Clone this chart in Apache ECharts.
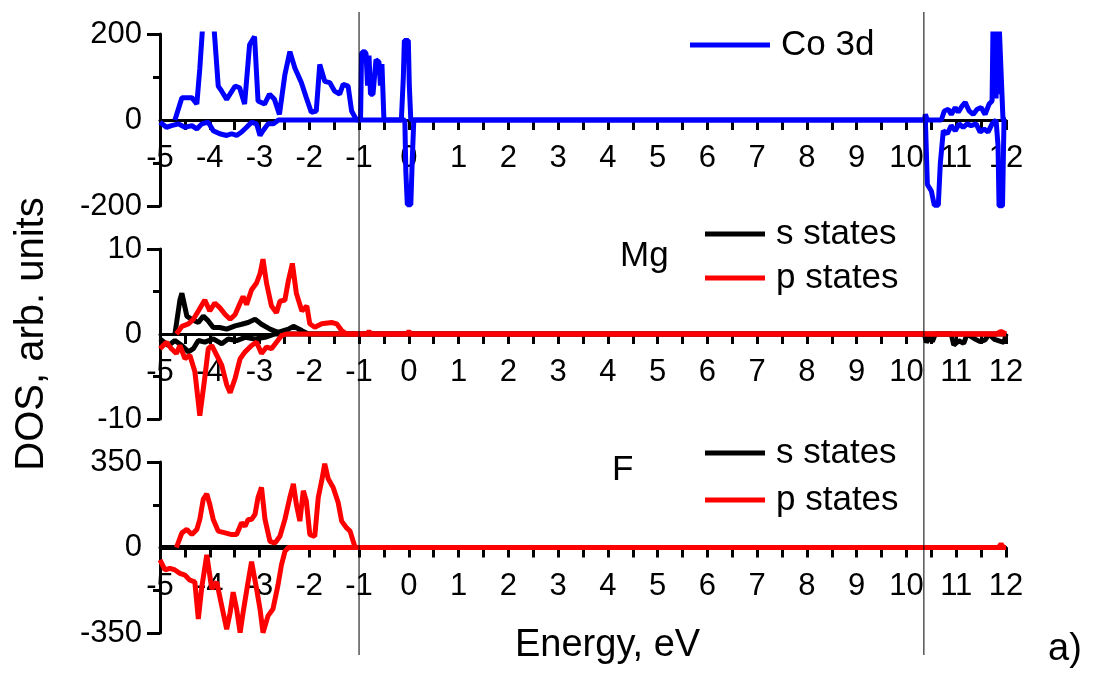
<!DOCTYPE html>
<html>
<head>
<meta charset="utf-8">
<script src="https://cdn.jsdelivr.net/npm/echarts@6/dist/echarts.min.js"></script>
<style>
  html, body { margin: 0; padding: 0; background: #fff; }
  #main { width: 1107px; height: 684px; }
</style>
</head>
<body>
<div id="main"></div>
<script>
// energy axis
const energyMin = -5;
const energyMax = 12;
const dividers = [-1, 10.35];

// Co 3d, spin up / spin down  [energy, DOS]
const coUp = [
  [-4.7, 0], [-4.66, 0], [-4.56, 52], [-4.36, 52], [-4.26, 37], [-4.2, 120], [-4.13, 240], [-3.93, 240],
  [-3.83, 79], [-3.76, 67], [-3.66, 48], [-3.49, 79], [-3.4, 75], [-3.3, 37], [-3.2, 175], [-3.1, 194],
  [-3.03, 44], [-2.9, 37], [-2.8, 60], [-2.7, 48], [-2.6, 13], [-2.49, 106], [-2.39, 159], [-2.29, 121],
  [-2.16, 87], [-2.06, 52], [-1.96, 18], [-1.86, 21], [-1.79, 129], [-1.69, 90], [-1.59, 87], [-1.49, 67],
  [-1.39, 60], [-1.32, 83], [-1.22, 79], [-1.15, 21], [-1.05, 0],
  [-0.97, 0], [-0.95, 155], [-0.9, 160], [-0.86, 155], [-0.83, 80], [-0.8, 150], [-0.77, 60], [-0.72, 60],
  [-0.66, 140], [-0.6, 135], [-0.57, 80], [-0.54, 130], [-0.5, 0],
  [-0.15, 0], [-0.11, 100], [-0.09, 185], [-0.01, 185], [0.01, 80], [0.04, 0],
  [10.36, 0], [10.38, 13], [10.42, 0], [10.7, 0], [10.76, 21], [10.84, 25], [10.9, 13], [10.98, 29],
  [11.04, 18], [11.12, 33], [11.18, 41], [11.26, 21], [11.34, 13], [11.42, 25], [11.5, 29], [11.58, 13],
  [11.66, 37], [11.72, 44], [11.74, 230], [11.76, 50], [11.78, 230], [11.8, 50], [11.82, 230], [11.84, 60],
  [11.86, 230], [11.9, 230], [11.94, 0], [12, 0]
];
const coDn = [
  [-5, -5], [-4.97, -5], [-4.87, -17], [-4.77, -13], [-4.63, -9], [-4.5, -17], [-4.36, -13], [-4.26, -21],
  [-4.16, -9], [-4.03, -5], [-3.93, -25], [-3.8, -32], [-3.66, -36], [-3.56, -32], [-3.46, -36], [-3.36, -28],
  [-3.26, -17], [-3.16, -5], [-3.06, -9], [-2.99, -36], [-2.93, -25], [-2.83, -9], [-2.72, -9], [-2.62, 0],
  [-0.08, 0], [-0.06, -120], [-0.03, -197], [0.04, -197], [0.07, -90], [0.1, 0],
  [10.38, 0], [10.42, -150], [10.5, -165], [10.56, -198], [10.64, -198], [10.68, -101], [10.74, -25], [10.82, -32],
  [10.9, -13], [10.98, -25], [11.06, -9], [11.14, -17], [11.22, -9], [11.3, -13], [11.4, -9], [11.48, -28],
  [11.56, -21], [11.64, -28], [11.72, -9], [11.8, 0], [11.84, -60], [11.86, -200], [11.93, -200], [11.96, 0], [12, 0]
];

// Mg s and p states
const mgSUp = [
  [-4.7, 0], [-4.6, 4.0], [-4.56, 4.8], [-4.46, 2.1], [-4.36, 1.7], [-4.23, 1.35], [-4.13, 2.1], [-4.03, 1.54],
  [-3.93, 0.77], [-3.8, 0.77], [-3.66, 0.58], [-3.49, 0.96], [-3.36, 1.15], [-3.23, 1.35], [-3.09, 1.73],
  [-2.96, 1.15], [-2.79, 0.58], [-2.63, 0.2], [-2.42, 0.58], [-2.32, 0.9], [-2.15, 0.4], [-2.02, 0], [12, 0]
];
const mgSDn = [
  [-5, -0.58], [-4.97, -0.58], [-4.83, -1.35], [-4.7, -0.77], [-4.56, -1.35], [-4.43, -2.1], [-4.33, -1.73],
  [-4.23, -0.77], [-4.1, -0.96], [-3.93, -0.58], [-3.76, -1.15], [-3.63, -0.58], [-3.46, -0.77], [-3.29, -0.4],
  [-3.09, -0.58], [-2.89, -0.4], [-2.69, 0],
  [10.36, 0], [10.4, -1.0], [10.46, -0.4], [10.52, -0.9], [10.58, 0], [10.9, 0], [10.95, -1.3], [11.05, -0.8],
  [11.15, -1.1], [11.22, 0], [11.38, -0.6], [11.48, -0.9], [11.58, -0.7], [11.66, 0], [11.76, -0.6],
  [11.86, -0.8], [11.96, -1.0], [12, 0]
];
const mgPUp = [
  [-4.67, 0], [-4.56, 0.9], [-4.43, 1.2], [-4.33, 1.73], [-4.23, 2.7], [-4.1, 4.0], [-4.0, 2.7], [-3.9, 3.65],
  [-3.8, 3.1], [-3.69, 2.3], [-3.59, 1.73], [-3.49, 2.3], [-3.39, 3.65], [-3.33, 4.4], [-3.26, 3.46],
  [-3.16, 5.2], [-3.06, 6.0], [-2.99, 7.1], [-2.93, 8.8], [-2.86, 6.0], [-2.76, 3.3], [-2.66, 2.5],
  [-2.59, 3.85], [-2.49, 4.0], [-2.42, 6.3], [-2.34, 8.3], [-2.26, 4.8], [-2.15, 2.7], [-2.05, 3.3],
  [-1.99, 1.2], [-1.89, 0.8], [-1.75, 1.2], [-1.55, 1.35], [-1.45, 1.2], [-1.35, 0.4], [-1.25, 0],
  [-0.85, 0], [-0.8, 0.3], [-0.75, 0], [-0.05, 0], [0, 0.3], [0.05, 0], [11.8, 0], [11.9, 0.3], [12, 0]
];
const mgPDn = [
  [-5, -1.73], [-4.97, -1.73], [-4.87, -0.96], [-4.77, -1.73], [-4.67, -2.3], [-4.6, -1.35], [-4.5, -2.9],
  [-4.4, -2.5], [-4.3, -4.4], [-4.2, -9.6], [-4.11, -5.6], [-4.03, -1.73], [-3.96, -1.35], [-3.86, -2.5],
  [-3.76, -3.65], [-3.66, -5.96], [-3.59, -6.9], [-3.49, -5.2], [-3.39, -2.9], [-3.29, -2.1], [-3.16, -1.35],
  [-3.06, -0.96], [-2.96, -2.3], [-2.86, -1.54], [-2.76, -1.73], [-2.66, -0.96], [-2.56, -0.2], [-2.46, 0], [12, 0]
];

// F s and p states
const fS = [[-5, 0], [12, 0]];
const fPUp = [
  [-4.67, 0], [-4.56, 60], [-4.46, 74], [-4.36, 53], [-4.26, 74], [-4.2, 115], [-4.13, 198], [-4.06, 219],
  [-4.0, 177], [-3.93, 115], [-3.83, 67], [-3.69, 60], [-3.56, 53], [-3.46, 53], [-3.36, 101], [-3.29, 87],
  [-3.23, 115], [-3.16, 115], [-3.09, 136], [-3.03, 205], [-2.96, 246], [-2.89, 115], [-2.79, 25], [-2.69, 18],
  [-2.59, 46], [-2.49, 115], [-2.39, 205], [-2.32, 260], [-2.26, 177], [-2.19, 108], [-2.12, 232], [-2.06, 191],
  [-1.99, 53], [-1.89, 46], [-1.82, 205], [-1.75, 274], [-1.69, 343], [-1.62, 281], [-1.52, 246], [-1.42, 184],
  [-1.35, 108], [-1.25, 80], [-1.18, 67], [-1.08, 0], [11.85, 0], [11.9, 15], [11.95, 0], [12, 0]
];
const fPDn = [
  [-5, -51], [-4.97, -51], [-4.9, -92], [-4.8, -85], [-4.7, -92], [-4.6, -106], [-4.5, -113], [-4.4, -134],
  [-4.3, -141], [-4.23, -293], [-4.16, -162], [-4.06, -30], [-3.96, -169], [-3.86, -141], [-3.76, -238],
  [-3.66, -335], [-3.59, -266], [-3.53, -183], [-3.46, -252], [-3.39, -349], [-3.33, -266], [-3.23, -141],
  [-3.16, -58], [-3.06, -169], [-2.99, -252], [-2.93, -349], [-2.83, -280], [-2.73, -252], [-2.63, -155],
  [-2.56, -72], [-2.49, -16], [-2.42, 0], [12, 0]
];

// y ranges of the three panels
const yLimits = [200, 10, 350];

const FONT = 'Liberation Sans, Arial, sans-serif';
const BLUE = '#0000ff', RED = '#ff0000', BLACK = '#000000';

// panel boxes: the energy axis sits on the zero line, i.e. half-way down each panel
const panels = [
  { top: 34, height: 172 },
  { top: 249, height: 170 },
  { top: 462, height: 171 }
];

function xAxisFor(gridIndex) {
  return {
    type: 'value', gridIndex: gridIndex, min: energyMin, max: energyMax, interval: 1,
    position: 'bottom', offset: -panels[gridIndex].height / 2,
    axisLine: { onZero: false, lineStyle: { color: BLACK, width: 3 } },
    axisTick: { length: 10, lineStyle: { color: BLACK, width: 3 } },
    minorTick: { show: true, splitNumber: 2, length: 10, lineStyle: { color: BLACK, width: 3 } },
    axisLabel: { fontSize: 31, color: BLACK, fontFamily: FONT, margin: 23 },
    splitLine: { show: false }, minorSplitLine: { show: false }
  };
}
function yAxisFor(gridIndex, lim, extra) {
  return Object.assign({
    type: 'value', gridIndex: gridIndex, min: -lim, max: lim, interval: lim,
    axisLine: { show: true, onZero: false, lineStyle: { color: BLACK, width: 3 } },
    axisTick: { show: true, length: 13, customValues: [-lim, lim], lineStyle: { color: BLACK, width: 3 } },
    minorTick: { show: true, splitNumber: 2, length: 7, lineStyle: { color: BLACK, width: 3 } },
    axisLabel: { fontSize: 31, color: BLACK, fontFamily: FONT, margin: 18 },
    splitLine: { show: false }
  }, extra || {});
}
function curve(name, data, color, g) {
  return {
    type: 'line', name: name, data: data, xAxisIndex: g, yAxisIndex: g,
    symbol: 'none', showSymbol: false, clip: true,
    lineStyle: { color: color, width: 5 }, itemStyle: { color: color }
  };
}

const chart = echarts.init(document.getElementById('main'), null, { renderer: 'canvas' });
const textStyle = { fontSize: 35, lineHeight: 36, color: BLACK, fontFamily: FONT, fontWeight: 'normal' };
const legendText = Object.assign({}, textStyle, { padding: [0, 0, 0, 6] });
const bigText = Object.assign({}, textStyle, { fontSize: 38, lineHeight: 40 });

const legendBase = { icon: 'rect', itemHeight: 5, textStyle: legendText, selectedMode: false, padding: 0 };

chart.setOption({
  animation: false,
  backgroundColor: '#fff',
  grid: panels.map(function (p) {
    return { left: 160, right: 101, top: p.top, height: p.height };
  }).concat([{ left: 160, right: 101, top: 12, bottom: 29 }]),
  xAxis: [xAxisFor(0), xAxisFor(1), xAxisFor(2),
    { type: 'value', gridIndex: 3, min: energyMin, max: energyMax, show: false }],
  yAxis: [
    yAxisFor(0, yLimits[0]),
    yAxisFor(1, yLimits[1], {
      name: 'DOS, arb. units', nameLocation: 'middle', nameRotate: 90, nameGap: 108,
      nameTextStyle: { fontSize: 40, color: BLACK, fontFamily: FONT }
    }),
    yAxisFor(2, yLimits[2]),
    { type: 'value', gridIndex: 3, min: 0, max: 1, show: false }
  ],
  legend: [
    Object.assign({}, legendBase, { data: ['Co 3d'], left: 690, top: 27, itemWidth: 80, itemGap: 8 }),
    Object.assign({}, legendBase, { data: ['s states', 'p states'], orient: 'vertical', left: 705, top: 216,
      itemWidth: 60, itemGap: 8 }),
    Object.assign({}, legendBase, { data: ['s states', 'p states'], orient: 'vertical', left: 705, top: 435,
      itemWidth: 60, itemGap: 11 })
  ],
  title: [
    { text: 'Mg', left: 620, top: 238, padding: 0, textStyle: textStyle },
    { text: 'F', left: 612, top: 452, padding: 0, textStyle: textStyle },
    { text: 'Energy, eV', left: 515, top: 626, padding: 0, textStyle: bigText },
    { text: 'a)', left: 1048, top: 630, padding: 0, textStyle: bigText }
  ],
  series: [
    curve('Co 3d', coDn, BLUE, 0),
    curve('Co 3d', coUp, BLUE, 0),
    curve('s states', mgSUp, BLACK, 1),
    curve('s states', mgSDn, BLACK, 1),
    curve('p states', mgPUp, RED, 1),
    curve('p states', mgPDn, RED, 1),
    curve('s states', fS, BLACK, 2),
    curve('p states', fPUp, RED, 2),
    curve('p states', fPDn, RED, 2)
  ].concat(dividers.map(function (e) {
    return {
      type: 'line', xAxisIndex: 3, yAxisIndex: 3, symbol: 'none', silent: true, z: 5,
      data: [[e, 0], [e, 1]], lineStyle: { color: BLACK, width: 1 }
    };
  }))
});
</script>
</body>
</html>
